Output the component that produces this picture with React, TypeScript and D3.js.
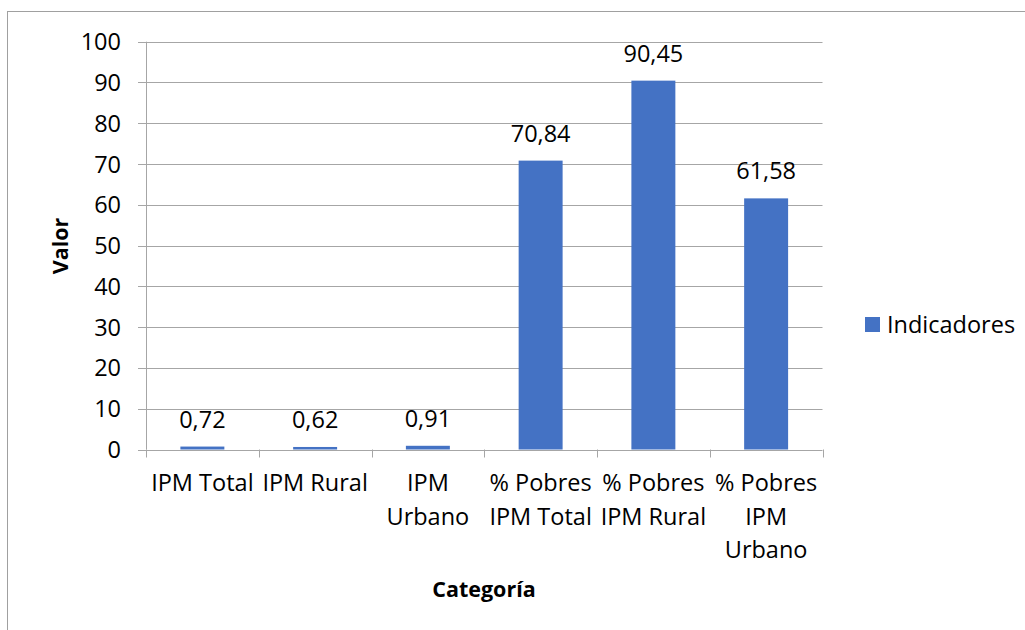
import React from "react";
import * as d3 from "d3";

const categories: string[][] = [
    ["IPM Total"],
    ["IPM Rural"],
    ["IPM", "Urbano"],
    ["% Pobres", "IPM Total"],
    ["% Pobres", "IPM Rural"],
    ["% Pobres", "IPM", "Urbano"],
];
const values = [0.72, 0.62, 0.91, 70.84, 90.45, 61.58];
const yTicks = [0, 10, 20, 30, 40, 50, 60, 70, 80, 90, 100];
const seriesName = "Indicadores";

const W = 1025, H = 630;
const left = 146, right = 822.5, top = 41.7, bottom = 449.5;
const font = "'Open Sans', sans-serif";
const fs = 23.5;
const blue = "#4472C4";
const grid = "#A6A6A6";

export default function App() {
    const keys = categories.map((c, i) => String(i));
    const x = d3.scaleBand().domain(keys).range([left, right]).paddingInner(0.61).paddingOuter(0.305);
    const band = d3.scaleBand().domain(keys).range([left, right]);
    const y = d3.scaleLinear().domain([0, 100]).range([bottom, top]);
    const fmt = (v: number) => d3.format(".2f")(v).replace(".", ",");

    return (
        <svg width={W} height={H} style={{position: "absolute", left: 0, top: 0}} fontFamily={font}>
            <rect x={0} y={0} width={W} height={H} fill="white"/>
            <rect x={7.5} y={11.5} width={W + 20} height={H + 20} fill="none" stroke="#A0A0A0" strokeWidth={1}/>

            {/* gridlines + y ticks */}
            {yTicks.map(t => (
                <g key={t}>
                    <line x1={left - 8} x2={right} y1={Math.round(y(t)) + 0.5} y2={Math.round(y(t)) + 0.5} stroke={grid}/>
                    <text x={121} y={y(t)} dy="0.36em" textAnchor="end" fontSize={fs} fill="#000">{t}</text>
                </g>
            ))}
            <line x1={left + 0.5} x2={left + 0.5} y1={top} y2={bottom} stroke={grid}/>

            {/* x ticks */}
            {keys.map(k => (
                <line key={k} x1={Math.round(band(k)!) + 0.5} x2={Math.round(band(k)!) + 0.5} y1={bottom} y2={bottom + 8} stroke={grid}/>
            ))}
            <line x1={Math.round(right) + 0.5} x2={Math.round(right) + 0.5} y1={bottom} y2={bottom + 8} stroke={grid}/>

            {/* bars */}
            {values.map((v, i) => (
                <rect key={i} x={x(keys[i])} y={y(v)} width={x.bandwidth()} height={bottom - y(v)} fill={blue}/>
            ))}

            {/* data labels */}
            {values.map((v, i) => (
                <text key={i} x={x(keys[i])! + x.bandwidth() / 2} y={y(v) - 19} textAnchor="middle" fontSize={fs} fill="#000">{fmt(v)}</text>
            ))}

            {/* category labels */}
            {categories.map((lines, i) => (
                <text key={i} x={band(keys[i])! + band.bandwidth() / 2} y={491} textAnchor="middle" fontSize={fs} fill="#000">
                    {lines.map((l, j) => (
                        <tspan key={j} x={band(keys[i])! + band.bandwidth() / 2} dy={j === 0 ? 0 : 33.5}>{l}</tspan>
                    ))}
                </text>
            ))}

            {/* axis titles */}
            <text x={484} y={597} textAnchor="middle" fontSize={21.5} fontWeight="bold" fill="#000">Categoría</text>
            <text transform={`translate(68,246) rotate(-90)`} textAnchor="middle" fontSize={21.5} fontWeight="bold" fill="#000">Valor</text>

            {/* legend */}
            <rect x={865} y={317} width={15} height={15} fill={blue}/>
            <text x={887} y={324.5} dy="0.36em" fontSize={fs} fill="#000">{seriesName}</text>
        </svg>
    );
}
